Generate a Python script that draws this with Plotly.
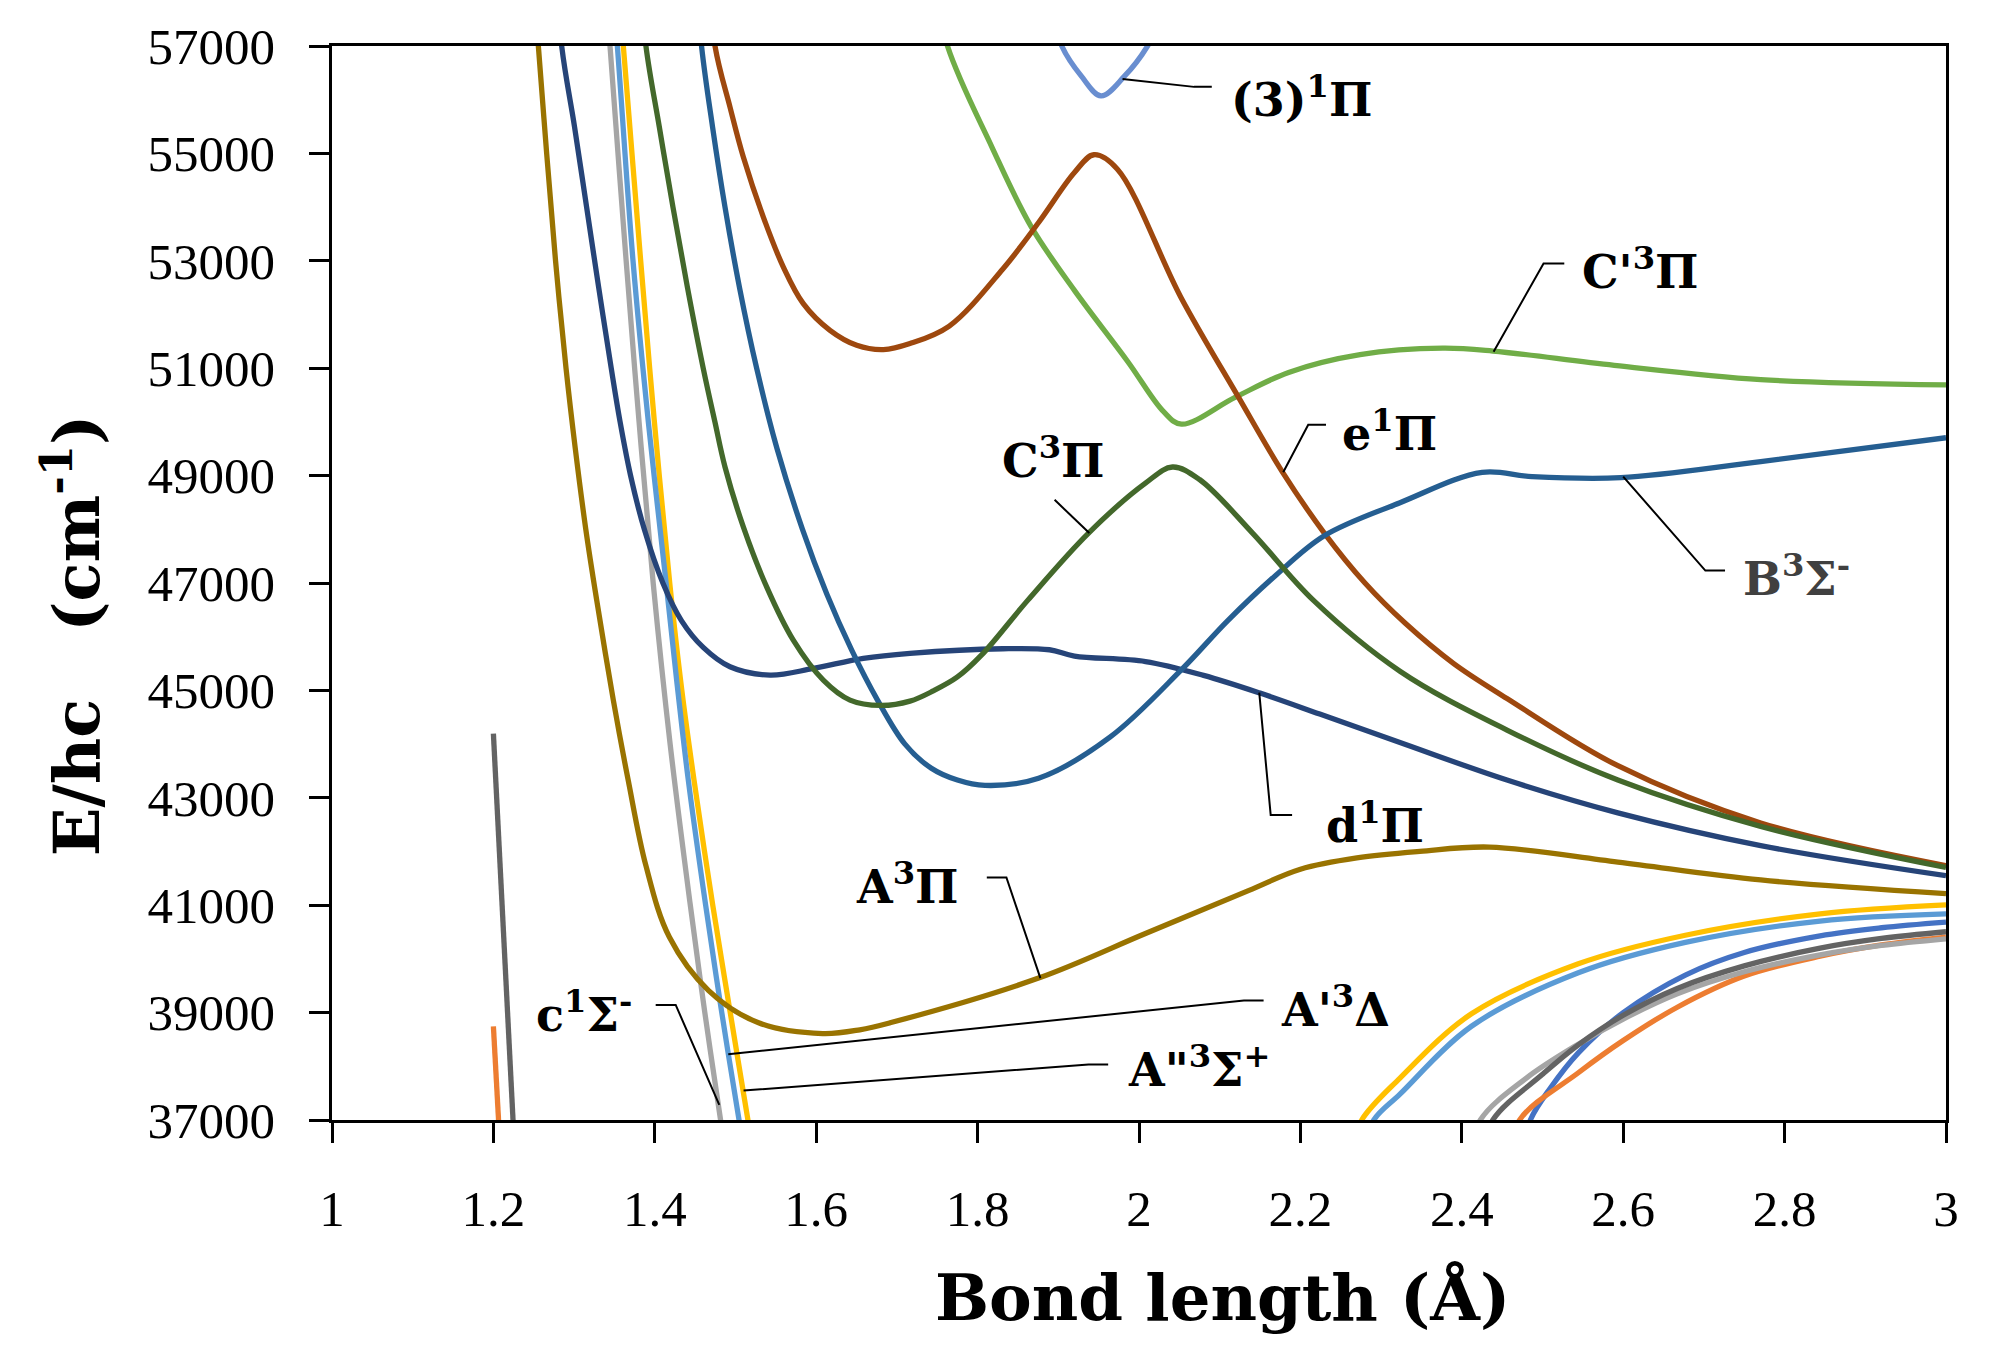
import plotly.graph_objects as go

# ---------------- data (bond length in Angstrom, energy in cm-1) ----------------
# None separates the branches of a curve that leave the plotted window
blue_x = [2.475, 2.485, 2.51, 2.5444, 2.60, 2.677, 2.75, 2.844, 2.92, 3.0]
blue_y = [36300, 37000, 37600, 38250, 39000, 39700, 40120, 40430, 40580, 40686]

orange_x = [1.2, 1.25, None, 2.46, 2.4717, 2.5444, 2.60, 2.667, 2.75, 2.844, 2.92, 3.0]
orange_y = [38745, 25100, None, 36300, 37000, 37880, 38480, 39100, 39680, 40050, 40260, 40406]

c1Sig_x = [1.335, 1.3445, 1.3645, 1.3805, 1.398, 1.419, 1.444, 1.462, 1.4815, 1.4915, None,
           2.41, 2.423, 2.48, 2.5444, 2.60, 2.667, 2.75, 2.844, 2.92, 3.0]
c1Sig_y = [59000, 57000, 53000, 50000, 47000, 44000, 41000, 39000, 37000, 36000, None,
           36300, 37000, 37780, 38412, 38880, 39350, 39760, 40074, 40250, 40374]

A2_x = [1.35, 1.361, 1.3825, 1.3995, 1.4185, 1.4335, 1.4486, 1.4718, 1.4935, 1.5154, 1.5245, None,
        2.265, 2.276, 2.3234, 2.412, 2.5444, 2.677, 2.844, 3.0]
A2_y = [59000, 57000, 53000, 50000, 47000, 45000, 43331, 41000, 39000, 37000, 36200, None,
        36500, 37000, 37781, 38978, 39908, 40440, 40839, 41005]

A1_x = [1.343, 1.3536, 1.373, 1.392, 1.414, 1.4285, 1.4415, 1.463, 1.483, 1.5044, 1.5135, None,
        2.28, 2.291, 2.3234, 2.412, 2.5444, 2.677, 2.8439, 3.0]
A1_y = [59000, 57000, 53000, 50000, 47000, 45000, 43331, 41000, 39000, 37000, 36200, None,
        36500, 37000, 37482, 38745, 39741, 40307, 40705, 40839]

Cp_x = [1.745, 1.7627, 1.818, 1.866, 1.92, 1.9862, 2.0305, 2.0526, 2.119, 2.1854,
        2.2739, 2.3765, 2.4384, 2.5889, 2.7704, 3.0]
Cp_y = [58300, 57000, 55109, 53646, 52450, 51121, 50190, 49958, 50457, 50922,
        51253, 51372, 51320, 51054, 50788, 50689]

d1_x = [1.27, 1.2846, 1.3005, 1.3155, 1.3305, 1.346, 1.357, 1.37, 1.387, 1.41, 1.433,
        1.46, 1.4932, 1.5428, 1.5964, 1.6584, 1.7162, 1.8313, 1.889, 1.92, 2.008,
        2.08, 2.15, 2.224, 2.3234, 2.456, 2.5934, 2.7704, 3.0]
d1_y = [59600, 57000, 55500, 54000, 52500, 51000, 50000, 49000, 48000, 47000, 46300,
        45800, 45440, 45285, 45409, 45596, 45689, 45776, 45757, 45640, 45538,
        45280, 44950, 44560, 44030, 43331, 42720, 42110, 41550]

e1_x = [1.46, 1.4746, 1.4932, 1.5097, 1.5345, 1.5593, 1.584, 1.6171, 1.6502, 1.6832,
        1.7162, 1.7649, 1.8313, 1.8756, 1.92, 1.9441, 1.973, 2.052, 2.1234, 2.178,
        2.2296, 2.28, 2.33, 2.39, 2.456, 2.5934, 2.7704, 3.0]
e1_y = [59200, 57000, 55861, 54931, 53814, 52883, 52202, 51705, 51426, 51346,
        51458, 51785, 52848, 53713, 54644, 54975, 54710, 52318, 50457, 49061,
        47930, 47000, 46250, 45500, 44850, 43597, 42532, 41736]

dgray_x = [1.2, 1.25, None, 2.425, 2.4385, 2.50, 2.5444, 2.60, 2.667, 2.75, 2.844, 2.92, 3.0]
dgray_y = [44195, 29400, None, 36300, 37000, 37850, 38400, 38950, 39450, 39870, 40200, 40380, 40506]

A3_x = [1.24, 1.2557, 1.266, 1.277, 1.29, 1.3015, 1.3145, 1.328, 1.3486, 1.367,
        1.389, 1.418, 1.4667, 1.5286, 1.608, 1.654, 1.6915, 1.8756, 2.008, 2.1356,
        2.2, 2.27, 2.348, 2.4341, 2.5934, 2.7704, 3.0]
A3_y = [59800, 57000, 55000, 53000, 51000, 49500, 48000, 46681, 44820, 43331,
        41736, 40407, 39410, 38810, 38610, 38680, 38810, 39643, 40473, 41271,
        41669, 41880, 42002, 42082, 41803, 41470, 41217]

B3_x = [1.445, 1.4579, 1.4715, 1.487, 1.505, 1.5262, 1.5515, 1.583, 1.613, 1.644,
        1.676, 1.71, 1.7427, 1.775, 1.8091, 1.8756, 1.964, 2.053, 2.11, 2.17,
        2.2296, 2.3234, 2.4252, 2.487, 2.597, 2.7704, 3.0]
B3_y = [59300, 57000, 55500, 54000, 52500, 51000, 49500, 48000, 46800, 45750,
        44820, 44000, 43550, 43330, 43231, 43364, 44129, 45391, 46300, 47150,
        47880, 48495, 49061, 48981, 48961, 49260, 49705]

C3_x = [1.375, 1.389, 1.4055, 1.4225, 1.4405, 1.46, 1.4745, 1.487, 1.5097, 1.5386,
        1.5716, 1.6088, 1.6419, 1.68, 1.7162, 1.745, 1.775, 1.805, 1.8623, 1.9375,
        2.008, 2.0415, 2.075, 2.1407, 2.2159, 2.3234, 2.456, 2.5934, 2.7704, 3.0]
C3_y = [59300, 57000, 55500, 54000, 52500, 51000, 50000, 49161, 48045, 46928,
        45936, 45192, 44820, 44720, 44800, 44990, 45250, 45660, 46681, 47930,
        48860, 49160, 48927, 47930, 46681, 45358, 44262, 43331, 42467, 41703]

P3_x = [1.895, 1.9043, 1.9286, 1.953, 1.982, 2.0106, 2.02]
P3_y = [57500, 57000, 56438, 56071, 56438, 57000, 57300]

x_ticks = [1, 1.2, 1.4, 1.6, 1.8, 2, 2.2, 2.4, 2.6, 2.8, 3]
y_ticks = [37000, 39000, 41000, 43000, 45000, 47000, 49000, 51000, 53000, 55000, 57000]

series = [
    (blue_x, blue_y, "#4472C4"),
    (orange_x, orange_y, "#ED7D31"),
    (c1Sig_x, c1Sig_y, "#A5A5A5"),
    (A2_x, A2_y, "#FFC000"),
    (A1_x, A1_y, "#5B9BD5"),
    (Cp_x, Cp_y, "#70AD47"),
    (d1_x, d1_y, "#264478"),
    (e1_x, e1_y, "#9E480E"),
    (dgray_x, dgray_y, "#636363"),
    (A3_x, A3_y, "#997300"),
    (B3_x, B3_y, "#255E91"),
    (C3_x, C3_y, "#43682B"),
    (P3_x, P3_y, "#698ED0"),
]

# labels: (text, x, y, xanchor, colour)
labels = [
    ("(3)<sup>1</sup>Π", 2.112, 56042, "left", "black"),
    ("C'<sup>3</sup>Π", 2.546, 52848, "left", "black"),
    ("e<sup>1</sup>Π", 2.249, 49826, "left", "black"),
    ("C<sup>3</sup>Π", 1.894, 49323, "center", "black"),
    ("B<sup>3</sup>Σ<sup>-</sup>", 2.746, 47133, "left", "#404040"),
    ("d<sup>1</sup>Π", 2.229, 42532, "left", "black"),
    ("A<sup>3</sup>Π", 1.647, 41403, "left", "black"),
    ("A'<sup>3</sup>Δ", 2.174, 39110, "left", "black"),
    ("A\"<sup>3</sup>Σ<sup>+</sup>", 1.984, 37981, "left", "black"),
    ("c<sup>1</sup>Σ<sup>-</sup>", 1.2498, 39013, "left", "black"),
]

# leader lines from label to curve
leaders = [
    [(1.9796, 56384), (2.0682, 56239), (2.0902, 56239)],
    [(2.4394, 51307), (2.5013, 52949), (2.527, 52949)],
    [(2.1787, 49061), (2.2097, 49945), (2.2317, 49945)],
    [(1.9384, 47930), (1.8954, 48549)],
    [(2.6, 48981), (2.7018, 47232), (2.7262, 47232)],
    [(2.149, 44959), (2.1632, 42679), (2.1897, 42679)],
    [(1.8114, 41516), (1.8357, 41516), (1.8778, 39643)],
    [(1.491, 38226), (2.130, 39224), (2.1544, 39224)],
    [(1.51, 37549), (1.9375, 38034), (1.9618, 38034)],
    [(1.4011, 39143), (1.4259, 39143), (1.4799, 37283)],
]

# ---------------- figure ----------------
fig = go.Figure()
for xs, ys, col in series:
    fig.add_trace(go.Scatter(x=xs, y=ys, mode="lines",
                             line=dict(color=col, width=5.3, shape="spline",
                                       smoothing=1.0, simplify=False),
                             connectgaps=False, showlegend=False, hoverinfo="skip"))

label_font = dict(family="DejaVu Serif", size=46, color="black")
for text, x, y, xa, col in labels:
    f = dict(label_font)
    f["color"] = col
    fig.add_annotation(x=x, y=y, xref="x", yref="y", text="<b>" + text + "</b>",
                       showarrow=False, xanchor=xa, yanchor="middle", font=f)

for pts in leaders:
    path = "M " + " L ".join(f"{px},{py}" for px, py in pts)
    fig.add_shape(type="path", path=path, xref="x", yref="y",
                  line=dict(color="black", width=2))

# axis titles
fig.add_annotation(x=-0.161, y=0.4514, xref="paper", yref="paper",
                   text="<b>E/hc&nbsp;&nbsp;&nbsp;(cm<sup>-1</sup>)</b>", textangle=-90,
                   showarrow=False, xanchor="center", yanchor="middle",
                   font=dict(family="DejaVu Serif", size=64, color="black"))
fig.add_annotation(x=0.552, y=-0.1657, xref="paper", yref="paper",
                   text="<b>Bond length (Å)</b>",
                   showarrow=False, xanchor="center", yanchor="middle",
                   font=dict(family="DejaVu Serif", size=64, color="black"))

axis_common = dict(showline=True, linecolor="black", linewidth=2.5, mirror=True,
                   ticks="outside", ticklen=20, tickwidth=2.5, tickcolor="black",
                   showgrid=False, zeroline=False,
                   tickfont=dict(family="Liberation Serif", size=51, color="black"))

fig.update_xaxes(range=[1, 3], tickvals=x_ticks, ticktext=[f"{v:g}" for v in x_ticks],
                 ticklabelstandoff=22, **axis_common)
fig.update_yaxes(range=[37000, 57000], tickvals=y_ticks, ticktext=[str(v) for v in y_ticks],
                 ticklabelstandoff=24, **axis_common)

# the page adds an 8 px body margin, so the figure is sized to fit the window
fig.update_layout(width=1982, height=1331,
                  margin=dict(l=324, r=44, t=37.5, b=219),
                  paper_bgcolor="white", plot_bgcolor="white")

fig.write_html("out.html")
